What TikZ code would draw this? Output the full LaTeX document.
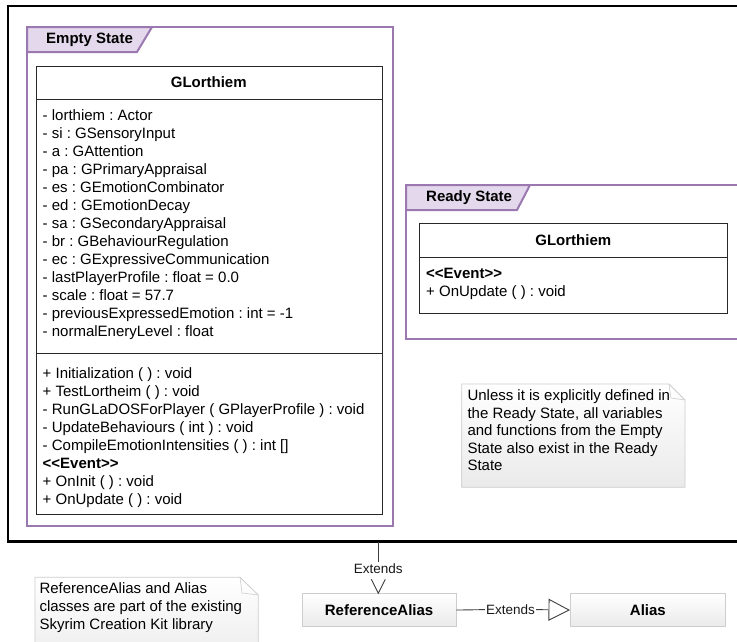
\documentclass[tikz,border=0pt]{standalone}
\usepackage{fontspec}
\setmainfont{Liberation Sans}
\usetikzlibrary{arrows.meta}
\definecolor{framepurple}{RGB}{155,121,176}
\definecolor{tabfill}{RGB}{227,216,236}
\definecolor{boxline}{RGB}{40,40,40}
\definecolor{lightline}{RGB}{205,205,205}
\definecolor{lightfill}{RGB}{234,234,234}
\frenchspacing
\begin{document}
\begin{tikzpicture}[x=1pt,y=-1pt,
  txt/.style={font=\fontsize{15}{18}\selectfont, inner sep=0pt, align=left, anchor=north west, text=black},
  boldtxt/.style={font=\fontsize{15}{18}\selectfont\bfseries, inner sep=0pt, text=black},
  lbl/.style={font=\fontsize{13.5}{15}\selectfont, inner sep=1pt, text=black!90},
  classbox/.style={draw=boxline, line width=1pt, fill=white, anchor=north west, inner sep=0pt},
  classline/.style={draw=boxline, line width=1pt},
  frame/.style={draw=framepurple, line width=2pt},
  tab/.style={fill=tabfill, draw=framepurple, line width=2pt},
  graybox/.style={draw=lightline, line width=0.8pt, top color=white, bottom color=lightfill, anchor=north west, inner sep=0pt},
  notebox/.style={draw=lightline, line width=0.8pt, top color=white, bottom color=lightfill},
  conn/.style={draw=boxline!90, line width=0.9pt}
]
\useasboundingbox (0,0) rectangle (737,641);
\fill[white] (0,0) rectangle (737,641);

% outer box
\draw[line width=2.5pt, black] (8,6) rectangle (770,541.5);

% Empty State frame
\draw[frame] (27,27) rectangle (392.5,525.5);
\filldraw[tab] (27,27) -- (152,27) -- (137,52) -- (27,52) -- cycle;
\node[boldtxt, anchor=west] (estate) at (46,39.5) {Empty State};

% class GLorthiem (empty state)
\node[classbox, minimum width=345.5, minimum height=447.5] (c1) at (36,66) {};
\draw[classline] (36,99) -- (381.5,99);
\draw[classline] (36,353) -- (381.5,353);
\node[boldtxt] (c1t) at (208.75,82.5) {GLorthiem};
\node[txt] (c1a) at (42.5,109.6) {- lorthiem : Actor\\
- si : GSensoryInput\\
- a : GAttention\\
- pa : GPrimaryAppraisal\\
- es : GEmotionCombinator\\
- ed : GEmotionDecay\\
- sa : GSecondaryAppraisal\\
- br : GBehaviourRegulation\\
- ec : GExpressiveCommunication\\
- lastPlayerProfile : float = 0.0\\
- scale : float = 57.7\\
- previousExpressedEmotion : int = -1\\
- normalEneryLevel : float};
\node[txt] (c1m) at (42.5,367.8) {+ Initialization ( ) : void\\
+ TestLortheim ( ) : void\\
- RunGLaDOSForPlayer ( GPlayerProfile ) : void\\
- UpdateBehaviours ( int ) : void\\
- CompileEmotionIntensities ( ) : int []\\
\textbf{<{}<Event>{}>}\\
+ OnInit ( ) : void\\
+ OnUpdate ( ) : void};

% Ready State frame
\draw[frame] (406,185) rectangle (770,338.5);
\filldraw[tab] (406,185) -- (530,185) -- (517,210) -- (406,210) -- cycle;
\node[boldtxt, anchor=west] (rstate) at (426,197.5) {Ready State};

% class GLorthiem (ready state)
\node[classbox, minimum width=308, minimum height=90.6] (c2) at (419.3,222.7) {};
\draw[classline] (419.3,257.3) -- (727.3,257.3);
\node[boldtxt] (c2t) at (573.3,240.5) {GLorthiem};
\node[txt] (c2m) at (426,267.8) {\textbf{<{}<Event>{}>}\\
+ OnUpdate ( ) : void};

% note 1
\path[notebox] (461.7,384) -- (669,384) -- (685,400) -- (685,487.3) -- (461.7,487.3) -- cycle;
\draw[lightline, line width=0.6pt] (669,384) -- (671,398) -- (685,400);
\node[txt, font=\fontsize{15}{17.6}\selectfont] (n1) at (467.3,389.5) {Unless it is explicitly defined in\\
the Ready State, all variables\\
and functions from the Empty\\
State also exist in the Ready\\
State};

% note 2
\path[notebox] (35,577.3) -- (240,577.3) -- (258.3,595) -- (258.3,670) -- (35,670) -- cycle;
\draw[lightline, line width=0.6pt] (240,577.3) -- (242,593) -- (258.3,595);
\node[txt] (n2) at (39.3,582.8) {ReferenceAlias and Alias\\
classes are part of the existing\\
Skyrim Creation Kit library};

% ReferenceAlias and Alias
\node[graybox, minimum width=154, minimum height=32.7] (ra) at (301.7,593.3) {};
\node[boldtxt] (rat) at (ra.center) {ReferenceAlias};
\node[graybox, minimum width=155, minimum height=32.7] (al) at (570,593.3) {};
\node[boldtxt] (alt) at (al.center) {Alias};

% connectors
\coordinate (ob) at (378.3,541.5);
\node[lbl] (ext1) at (378.3,568.3) {Extends};
\draw[conn] (ob) -- (ext1.north);
\draw[conn] (ra.north -| ob) ++(-7,-14) -- (ra.north -| ob) -- ++(7,-14);

\node[lbl] (ext2) at (510.5,609.6) {Extends};
\draw[conn] (ra.east) -- (ext2.west);
\draw[conn, -{Triangle[open, length=21.5pt, width=22pt, fill=white]}] (ext2.east) -- (al.west);
\end{tikzpicture}
\end{document}
